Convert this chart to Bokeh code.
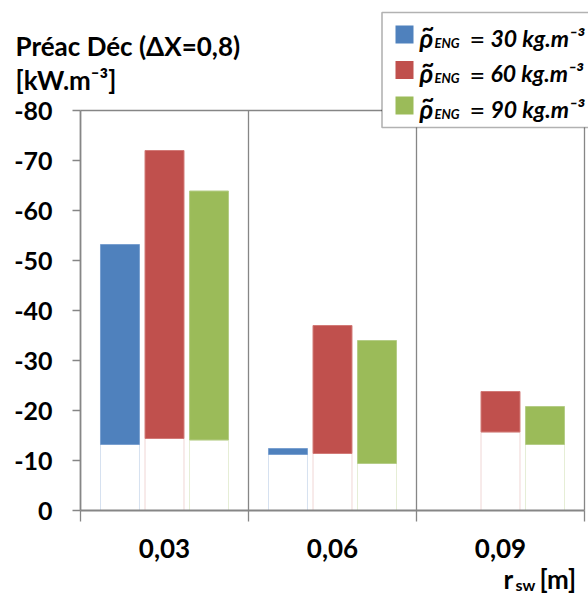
from bokeh.plotting import figure
from bokeh.models import Range1d, FixedTicker, Label, BoxAnnotation
from bokeh.embed import file_html
from bokeh.resources import INLINE

# ---- data ----
categories = ["0,03", "0,06", "0,09"]
series_labels = ["30", "60", "90"]
top_30 = [-53.2, -12.4, 0.0]
base_30 = [-13.2, -11.2, 0.0]
top_60 = [-72.0, -37.0, -23.8]
base_60 = [-14.4, -11.4, -15.7]
top_90 = [-63.9, -34.0, -20.8]
base_90 = [-14.1, -9.4, -13.2]
y_ticks = [0, -10, -20, -30, -40, -50, -60, -70, -80]
y_tick_labels = ["0", "-10", "-20", "-30", "-40", "-50", "-60", "-70", "-80"]
y_min, y_max = 0, -80

colors = ["#4F81BD", "#C0504D", "#9BBB59"]
edge_colors = ["#7aa0d0", "#d27a77", "#b5cd87"]
base_edges = ["#d6e1f0", "#f0d6d5", "#e6eed6"]
tops = [top_30, top_60, top_90]
bases = [base_30, base_60, base_90]
offsets = [-0.265, 0.0, 0.265]
BAR_W = 0.232
GRAY = "#868686"
FONT = "Lato"
W, H = 588, 598
n = len(categories)

# screen layout: category axis spans px 80..584, value axis spans py 510 (0) .. 110 (-80)
X0, X1, Y0, Y1 = 80.0, 584.0, 510.0, 110.0
sx = (X1 - X0) / n
sy = (Y0 - Y1) / abs(y_max - y_min)

def px2x(px):
    return (px - X0) / sx

def py2y(py):
    return -(Y0 - py) / sy

p = figure(width=W, height=H, min_border=0,
           x_range=Range1d(px2x(0), px2x(W)), y_range=Range1d(py2y(H), py2y(0)),
           output_backend="svg", toolbar_location=None,
           background_fill_color="white", border_fill_color="white")
p.grid.visible = False
p.outline_line_color = None

# frame lines (category separators, top and right border)
p.segment(x0=[i for i in range(1, n + 1)], y0=[y_min] * n,
          x1=[i for i in range(1, n + 1)], y1=[y_max] * n,
          line_color=GRAY, line_width=1.3)
p.segment(x0=[0], y0=[y_max], x1=[n], y1=[y_max], line_color=GRAY, line_width=1.3)

for k in range(3):
    xs = [i + 0.5 + offsets[k] for i in range(n)]
    p.vbar(x=xs, width=BAR_W, bottom=0, top=bases[k], fill_color="white",
           line_color=base_edges[k], line_width=1)
    p.vbar(x=xs, width=BAR_W, bottom=bases[k], top=tops[k], fill_color=colors[k],
           line_color=edge_colors[k], line_width=1)

# y axis
ya = p.yaxis[0]
ya.fixed_location = 0
ya.bounds = (y_max, y_min)
ya.ticker = FixedTicker(ticks=y_ticks, minor_ticks=[])
ya.major_label_overrides = {t: l for t, l in zip(y_ticks, y_tick_labels)}
ya.axis_line_color = GRAY
ya.axis_line_width = 1.8
ya.major_tick_line_color = GRAY
ya.major_tick_line_width = 1.3
ya.major_tick_out = 8
ya.major_tick_in = 0
ya.minor_tick_line_color = None
ya.major_label_text_font = FONT
ya.major_label_text_font_style = "bold"
ya.major_label_text_font_size = "25px"
ya.major_label_text_color = "black"
ya.major_label_standoff = 20

# x axis
xa = p.xaxis[0]
xa.fixed_location = 0
xa.bounds = (0, n)
centers = [i + 0.5 for i in range(n)]
xa.ticker = FixedTicker(ticks=centers, minor_ticks=list(range(n + 1)))
xa.major_label_overrides = {c: l for c, l in zip(centers, categories)}
xa.axis_line_color = GRAY
xa.axis_line_width = 1.8
xa.major_tick_out = 0
xa.major_tick_in = 0
xa.minor_tick_out = 11
xa.minor_tick_in = 0
xa.minor_tick_line_color = GRAY
xa.minor_tick_line_width = 1.3
xa.major_label_text_font = FONT
xa.major_label_text_font_style = "bold"
xa.major_label_text_font_size = "26px"
xa.major_label_text_color = "black"
xa.major_label_standoff = 17

def lab(text, px, py, size, style="bold", align="left"):
    p.add_layout(Label(x=px2x(px), y=py2y(py), text=text, text_font=FONT,
                       text_font_size=size, text_font_style=style,
                       text_color="black", text_align=align,
                       text_baseline="alphabetic"))

# y title
lab("Préac Déc (ΔX=0,8)", 15, 45, "26px")
lab("[kW.m⁻³]", 15, 79, "26px")

# x title
lab("r", 503, 578, "26px")
lab("sw", 515, 584, "16px")
lab("[m]", 539, 578, "26px")

# legend
p.add_layout(BoxAnnotation(left=px2x(381.5), right=px2x(640), top=py2y(12),
                           bottom=py2y(127), fill_color="white", fill_alpha=1,
                           line_color="black", line_width=1.6))
for k in range(3):
    dy = 35.5 * k
    p.add_layout(BoxAnnotation(left=px2x(395), right=px2x(413), top=py2y(25 + dy),
                               bottom=py2y(43 + dy), fill_color=colors[k], fill_alpha=1,
                               line_color=None))
    lab("ρ", 419, 37 + dy, "26px", "bold italic")
    lab("~", 421, 27 + dy, "22px", "bold")
    lab("ENG", 434, 42 + dy, "13px", "bold italic")
    lab("=", 469, 38 + dy, "27px", "normal")
    lab(series_labels[k] + " kg.m⁻³", 490, 37 + dy, "23px", "bold italic")

open("out.html", "w").write(file_html(p, INLINE))
